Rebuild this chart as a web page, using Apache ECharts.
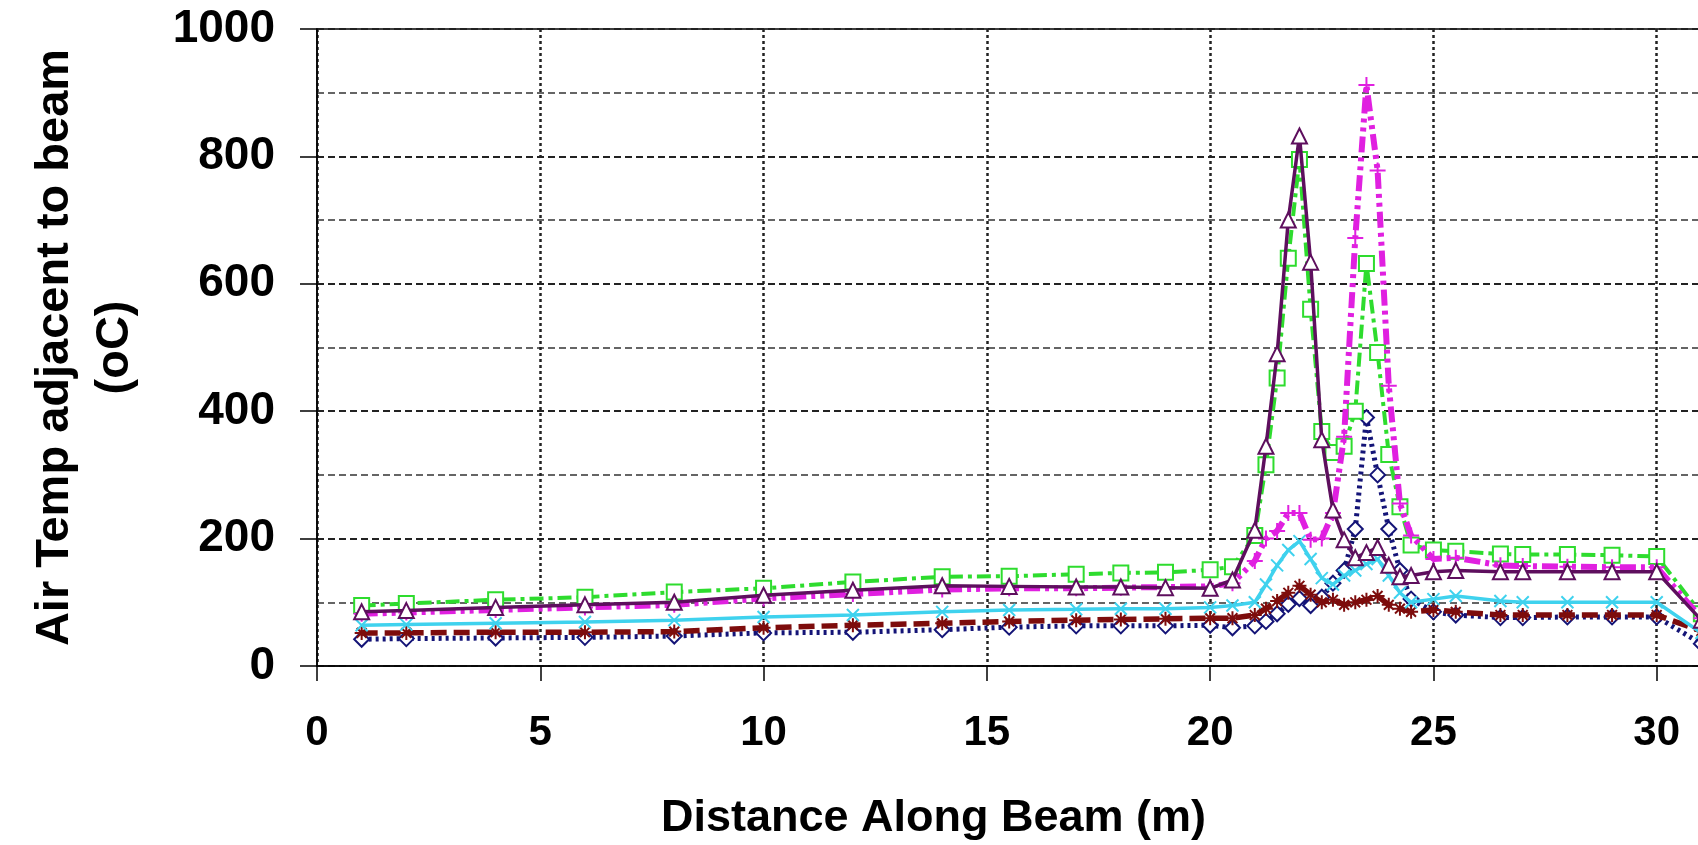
<!DOCTYPE html>
<html>
<head>
<meta charset="utf-8">
<title>Air Temp adjacent to beam</title>
<script src="https://cdn.jsdelivr.net/npm/echarts@6/dist/echarts.min.js"></script>
<style>
  html, body { margin: 0; padding: 0; background: #fff; }
  #chart { width: 1698px; height: 845px; }
</style>
</head>
<body>
<div id="chart"></div>
<script>
// Measurement stations along the beam (m)
const dist = [1, 2, 4, 6, 8, 10, 12, 14, 15.5, 17, 18, 19, 20, 20.5, 21, 21.25, 21.5, 21.75, 22, 22.25,
  22.5, 22.75, 23, 23.25, 23.5, 23.75, 24, 24.25, 24.5, 25, 25.5, 26.5, 27, 28, 29, 30, 31];

// Air temperature adjacent to the beam (oC), one array per run
const tPurple = [85, 87, 92, 96, 100, 111, 119, 126, 125, 124, 124, 123, 122, 135, 213, 345, 490, 700, 832, 634,
  355, 245, 198, 170, 178, 186, 158, 140, 142, 148, 150, 148, 148, 148, 148, 148, 72];
const tGreen = [95, 98, 104, 108, 116, 122, 132, 140, 141, 144, 146, 147, 151, 156, 205, 316, 452, 640, 795, 560,
  368, 335, 345, 400, 632, 492, 332, 250, 190, 182, 180, 176, 175, 175, 174, 172, 82];
const tMagenta = [82, 84, 88, 92, 96, 106, 113, 120, 122, 122, 123, 124, 125, 130, 165, 200, 212, 240, 240, 198,
  200, 240, 360, 672, 912, 778, 440, 255, 205, 168, 170, 158, 157, 156, 155, 155, 75];
const tNavy = [42, 43, 44, 45, 47, 52, 53, 57, 61, 63, 63, 63, 64, 60, 63, 70, 82, 97, 106, 95,
  108, 130, 150, 215, 390, 300, 215, 150, 105, 85, 80, 76, 76, 77, 77, 77, 35];
const tCyan = [64, 65, 67, 69, 72, 77, 80, 85, 88, 89, 90, 90, 92, 95, 100, 128, 158, 182, 196, 168,
  138, 128, 142, 150, 160, 168, 142, 115, 100, 105, 110, 102, 100, 100, 100, 100, 52];
const tDarkRed = [52, 52, 53, 53, 54, 60, 64, 67, 70, 72, 73, 74, 75, 75, 80, 90, 102, 115, 126, 112,
  100, 104, 96, 100, 104, 110, 96, 90, 85, 88, 85, 80, 80, 80, 80, 80, 55];

// Axis texts
const xTitle = 'Distance Along Beam (m)';
const yTitle = 'Air Temp adjacent to beam\n(oC)';

const pts = vals => dist.map((d, i) => [d, vals[i]]);

const PLUS = 'path://M5 0V10M0 5H10';
const CROSS = 'path://M0 0L10 10M10 0L0 10';
const STAR = 'path://M5 0V10M0 5H10M1.5 1.5L8.5 8.5M8.5 1.5L1.5 8.5';

function run(name, vals, color, width, dash, symbol, size, z) {
  return {
    name, type: 'line', data: pts(vals), z,
    symbol, symbolSize: size, showSymbol: true,
    lineStyle: { color, width, type: dash },
    itemStyle: { color, borderColor: color, borderWidth: 2 },
    emphasis: { disabled: true },
    animation: false
  };
}

const FONT = "'Liberation Sans', Arial, sans-serif";

const chart = echarts.init(document.getElementById('chart'));
chart.setOption({
  backgroundColor: '#ffffff',
  animation: false,
  grid: {
    left: 317, top: 29, width: 1563, height: 637,
    show: true, borderColor: '#000', borderWidth: 1.5,
    outerBoundsMode: 'none', containLabel: false
  },
  xAxis: {
    type: 'value', min: 0, max: 35, interval: 5,
    axisLine: { show: true, onZero: false, lineStyle: { color: '#000', width: 1.5 } },
    axisTick: { show: true, inside: false, length: 15, lineStyle: { color: '#000', width: 1.5 } },
    axisLabel: {
      margin: 46, color: '#000', fontFamily: FONT,
      fontWeight: 'bold', fontSize: 42
    },
    splitLine: { show: true, lineStyle: { color: '#222', width: 2.5, type: [3, 3] } },
    name: xTitle, nameLocation: 'middle', nameGap: 130,
    nameTextStyle: {
      color: '#000', fontFamily: FONT,
      fontWeight: 'bold', fontSize: 45, padding: [0, 330, 0, 0]
    }
  },
  yAxis: {
    type: 'value', min: 0, max: 1000, interval: 200,
    axisLine: { show: true, lineStyle: { color: '#000', width: 1.5 } },
    axisTick: { show: true, inside: false, length: 17, lineStyle: { color: '#000', width: 1.5 } },
    axisLabel: {
      margin: 42, color: '#000', fontFamily: FONT,
      fontWeight: 'bold', fontSize: 46,
      formatter: v => String(v)
    },
    splitLine: { show: true, lineStyle: { color: '#222', width: 2, type: [7, 4] } },
    minorTick: { show: false, splitNumber: 2 },
    minorSplitLine: { show: true, lineStyle: { color: '#333', width: 1.6, type: [7, 4] } },
    name: yTitle, nameLocation: 'middle', nameGap: 172, nameRotate: 90,
    nameTextStyle: {
      color: '#000', fontFamily: FONT,
      fontWeight: 'bold', fontSize: 47, lineHeight: 60, align: 'center'
    }
  },
  series: [
    run('navy', tNavy, '#141477', 5, [3, 4], 'emptyDiamond', 15, 2),
    run('darkred', tDarkRed, '#7d0c0c', 5.5, [16, 7], STAR, 14, 3),
    run('cyan', tCyan, '#3fd2ee', 3.5, 'solid', CROSS, 12, 4),
    run('green', tGreen, '#2edc2e', 4, [14, 5, 4, 5], 'emptyRect', 15, 5),
    run('magenta', tMagenta, '#e020e0', 6, [16, 5, 4, 5, 4, 5], PLUS, 16, 6),
    run('purple', tPurple, '#5e0f5e', 3.5, 'solid', 'emptyTriangle', 15, 7)
  ]
});
</script>
</body>
</html>
